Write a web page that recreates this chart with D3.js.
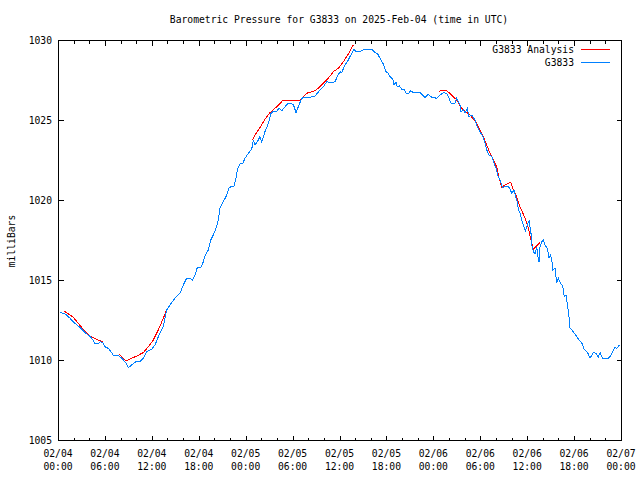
<!DOCTYPE html>
<html><head><meta charset="utf-8">
<script src="https://cdn.jsdelivr.net/npm/d3@7/dist/d3.min.js"></script>
<style>
body{margin:0;background:#fff}
text{font-family:"DejaVu Sans Mono","Liberation Mono",monospace;font-size:9.7px;fill:#000}
</style>
</head><body><svg id="c" width="640" height="480"></svg>
<script>
const title = "Barometric Pressure for G3833 on 2025-Feb-04 (time in UTC)";
const yLabel = "milliBars";
const seriesNames = ["G3833 Analysis", "G3833"];
const seriesColors = ["#ff0000", "#0080ff"];
const xTickHours = [0, 6, 12, 18, 24, 30, 36, 42, 48, 54, 60, 66, 72];
const xTickDates = ["02/04","02/04","02/04","02/04","02/05","02/05","02/05","02/05","02/06","02/06","02/06","02/06","02/07"];
const xTickTimes = ["00:00","06:00","12:00","18:00","00:00","06:00","12:00","18:00","00:00","06:00","12:00","18:00","00:00"];
const yTicks = [1005, 1010, 1015, 1020, 1025, 1030];

// Observed station pressure (hours since 2025-02-04 00:00 UTC)
const obsHours = [
 0.26,0.68,1.11,1.53,2.17,2.81,3.45,3.88,4.31,4.73,5.15,5.46,5.79,6.01,6.43,7.07,7.71,8.15,8.66,8.99,
 9.43,10.07,10.49,10.91,11.34,11.98,12.41,12.83,13.47,13.90,14.32,14.96,15.60,16.03,16.46,16.88,17.18,17.52,17.82,18.25,
 18.51,18.80,19.22,19.53,19.86,20.21,20.50,20.72,21.14,21.58,21.91,22.51,22.77,22.93,23.28,23.62,23.92,24.34,24.77,24.98,
 25.19,25.62,25.83,26.05,26.47,26.90,27.20,27.54,27.97,28.30,28.61,29.03,29.45,30.09,30.44,30.73,31.17,31.59,32.23,32.87,
 33.16,33.51,33.93,34.37,35.00,35.43,35.72,36.07,36.28,36.71,37.00,37.34,37.69,37.86,38.11,38.62,39.05,39.48,40.12,40.54,
 40.84,41.18,41.60,41.95,42.24,
 42.46,42.88,42.97,43.23,43.39,43.65,43.96,44.25,44.51,44.80,45.11,45.44,46.30,46.72,46.94,47.36,47.79,48.43,48.85,49.28,
 49.71,50.01,50.26,50.77,50.99,51.19,51.41,51.54,51.83,52.05,52.35,52.56,52.91,53.33,53.63,53.97,54.32,54.61,54.83,55.12,
 55.47,55.76,56.02,56.31,56.62,56.82,57.17,57.59,57.81,58.02,58.32,58.57,
 58.79,58.87,59.09,59.30,59.60,59.76,60.02,60.28,60.36,60.49,60.58,60.79,61.01,61.22,61.39,61.52,61.64,61.86,62.07,62.28,
 62.58,62.80,63.01,63.18,63.27,63.56,63.78,63.98,64.29,64.55,64.75,64.97,65.14,65.31,65.48,65.70,66.12,66.54,66.98,67.27,
 67.62,67.82,68.04,68.46,68.81,69.10,69.32,69.66,70.38,70.69,71.02,71.24,71.46,71.79
];
const obsValues = [
 1012.98,1012.92,1012.81,1012.61,1012.29,1012.04,1011.71,1011.56,1011.36,1011.04,1011.04,1011.14,1011.04,1010.83,1010.73,1010.31,1010.27,1010.11,1009.83,1009.52,
 1009.69,1009.94,1009.90,1010.11,1010.52,1010.67,1010.94,1011.46,1012.08,1013.13,1013.44,1013.86,1014.17,1014.69,1015.11,1015.11,1015.00,1015.31,1015.79,1015.79,
 1016.04,1016.50,1016.88,1017.50,1017.81,1018.23,1018.75,1019.48,1019.89,1020.31,1020.79,1020.88,1021.36,1021.88,1022.25,1022.29,1022.61,1022.92,1023.17,1023.75,
 1023.44,1023.75,1023.96,1023.64,1024.27,1024.79,1025.38,1025.56,1025.56,1025.73,1025.58,1025.83,1026.04,1025.98,1025.46,1025.83,1026.36,1026.42,1026.42,1026.50,
 1026.67,1026.88,1027.08,1027.39,1027.33,1027.39,1027.71,1028.02,1027.96,1028.44,1028.64,1028.96,1029.27,1029.42,1029.27,1029.27,1029.38,1029.42,1029.42,1029.21,
 1029.17,1028.86,1028.50,1028.02,1027.92,
 1027.71,1027.50,1027.19,1027.39,1027.08,1027.13,1026.92,1026.92,1026.67,1026.63,1026.83,1026.71,1026.71,1026.50,1026.42,1026.61,1026.42,1026.36,1026.56,1026.71,
 1026.67,1026.36,1026.04,1026.04,1026.36,1026.14,1025.94,1025.52,1025.63,1025.42,1025.73,1025.21,1025.31,1025.00,1024.58,1024.27,1023.96,1023.54,1023.13,1022.81,
 1022.71,1022.29,1021.98,1021.46,1021.14,1020.79,1020.83,1020.83,1020.69,1020.42,1020.63,1020.11,
 1019.79,1019.38,1019.17,1018.75,1018.33,1018.08,1018.44,1018.75,1018.33,1017.92,1017.19,1016.77,1016.63,1017.04,1016.46,1016.14,1017.08,1017.39,1017.50,1017.19,
 1016.98,1016.36,1016.56,1016.14,1015.63,1015.73,1014.79,1015.11,1014.75,1014.63,1013.96,1014.06,1013.44,1012.92,1011.98,1011.88,1011.63,1011.31,1011.08,1010.67,
 1010.52,1010.38,1010.11,1010.48,1010.42,1010.17,1010.46,1010.11,1010.11,1010.25,1010.63,1010.79,1010.73,1010.94
];

// Analysis series (null = gap between analysis segments)
const anaHours = [
 0.77,1.32,1.96,2.60,3.24,3.88,4.51,5.15,5.79, null,
 7.80,8.70,9.21,10.07,10.91,11.55,12.19,12.83,13.47,13.98, null,
 24.85,25.19,25.83,26.47,27.11,27.75,28.39,28.81,29.25,29.67,30.31,30.95,31.59,32.01,32.65,33.29,33.93,34.57,35.21,35.85,36.49,37.13,37.77, null,
 48.77,49.71,50.35,50.99,51.63,52.69,53.55,54.39,55.25,56.10,56.31,56.75,57.17,57.90,58.23,58.57,58.99,59.73,60.15,60.49,60.79,61.22,61.64
];
const anaValues = [
 1013.06,1012.88,1012.67,1012.29,1011.92,1011.56,1011.39,1011.25,1011.11, null,
 1010.36,1009.94,1010.06,1010.25,1010.46,1010.83,1011.25,1011.88,1012.61,1013.23, null,
 1023.75,1024.06,1024.52,1025.04,1025.46,1025.73,1026.04,1026.25,1026.25,1026.19,1026.19,1026.25,1026.56,1026.73,1026.77,1026.98,1027.29,1027.61,1028.02,1028.23,1028.64,1029.13,1029.69, null,
 1026.81,1026.83,1026.56,1026.25,1025.73,1025.31,1024.79,1023.96,1022.92,1022.08,1021.56,1020.79,1020.94,1021.11,1020.63,1020.31,1019.69,1018.86,1018.23,1017.50,1016.92,1017.13,1017.33
];

const L = 58, R = 621, T = 40, B = 440;
const svg = d3.select("#c");
const x = d3.scaleLinear().domain([0, 72]).range([L, R]);
const y = d3.scaleLinear().domain([1005, 1030]).range([B, T]);

const obs = obsHours.map((h, i) => ({h, v: obsValues[i]}));
const ana = anaHours.map((h, i) => ({h, v: anaValues[i]}));

const g = svg.append("g").attr("transform", "translate(0.5,0.5)");

// frame
g.append("rect").attr("x", L).attr("y", T).attr("width", R - L).attr("height", B - T)
  .attr("fill", "none").attr("stroke", "#000").attr("shape-rendering", "crispEdges");

// x ticks (every 2 h, longer every 6 h), bottom and top
const xt = d3.range(0, 73, 2);
xt.forEach(h => {
  const len = (h % 6 === 0) ? 5 : 3;
  const px = Math.round(x(h));
  g.append("line").attr("x1", px).attr("x2", px).attr("y1", B).attr("y2", B - len)
    .attr("stroke", "#000").attr("shape-rendering", "crispEdges");
  g.append("line").attr("x1", px).attr("x2", px).attr("y1", T).attr("y2", T + len)
    .attr("stroke", "#000").attr("shape-rendering", "crispEdges");
});
// y ticks left & right
yTicks.forEach(v => {
  const py = Math.round(y(v));
  g.append("line").attr("x1", L).attr("x2", L + 5).attr("y1", py).attr("y2", py)
    .attr("stroke", "#000").attr("shape-rendering", "crispEdges");
  g.append("line").attr("x1", R).attr("x2", R - 5).attr("y1", py).attr("y2", py)
    .attr("stroke", "#000").attr("shape-rendering", "crispEdges");
});

// y tick labels
svg.selectAll("text.yl").data(yTicks).enter().append("text")
  .attr("x", 52).attr("y", d => y(d) + 3.5).attr("text-anchor", "end").text(d => d);

// x tick labels
xTickHours.forEach((h, i) => {
  svg.append("text").attr("x", x(h)).attr("y", 457).attr("text-anchor", "middle").text(xTickDates[i]);
  svg.append("text").attr("x", x(h)).attr("y", 470).attr("text-anchor", "middle").text(xTickTimes[i]);
});

// title
svg.append("text").attr("x", 339).attr("y", 23).attr("text-anchor", "middle").text(title);
// y label
svg.append("text").attr("transform", "translate(15,241) rotate(-90)").attr("text-anchor", "middle").text(yLabel);

// lines
const line = d3.line().defined(d => d.h !== null && d.v !== null).x(d => x(d.h)).y(d => y(d.v));
svg.append("path").datum(ana).attr("d", line).attr("fill", "none")
  .attr("stroke", seriesColors[0]).attr("stroke-width", 1).attr("shape-rendering", "crispEdges");
svg.append("path").datum(obs).attr("d", line).attr("fill", "none")
  .attr("stroke", seriesColors[1]).attr("stroke-width", 1).attr("shape-rendering", "crispEdges");

// legend
seriesNames.forEach((n, i) => {
  const ly = 49 + i * 13;
  svg.append("text").attr("x", 574).attr("y", ly + 3.5).attr("text-anchor", "end").text(n);
  svg.append("line").attr("x1", 581).attr("x2", 610).attr("y1", ly + 0.5).attr("y2", ly + 0.5)
    .attr("stroke", seriesColors[i]).attr("shape-rendering", "crispEdges");
});
</script>
</body></html>
